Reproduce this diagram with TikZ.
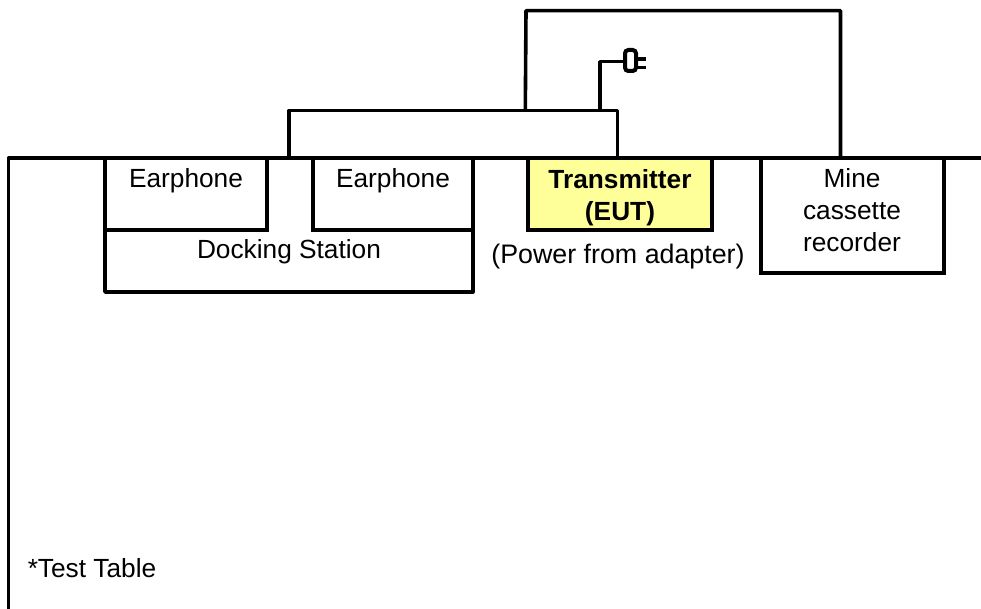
\documentclass[tikz,border=0pt]{standalone}
\usepackage{fontspec}
\setmainfont{Liberation Sans}
\tikzset{
  px/.style={x=0.75pt,y=-0.75pt},
  label/.style={inner sep=0pt,outer sep=0pt,align=center,font=\fontsize{19.7}{24}\selectfont},
  wire/.style={draw=black,line width=2.7pt,line join=round},
  boxline/.style={draw=black,line width=3pt,line join=miter},
}
\definecolor{euty}{HTML}{FFFF99}
\begin{document}
\begin{tikzpicture}[px]
\useasboundingbox (0,0) rectangle (981,609);
% test table
\coordinate (tl) at (8.5,158);
\coordinate (tb) at (8.5,609);
\coordinate (tr) at (981,158);
\draw[wire] (tb) -- (tl) -- (tr);
% connector anchors
\coordinate (a1) at (289,158);
\coordinate (a2) at (289,110.5);
\coordinate (a3) at (617.3,110.5);
\coordinate (a4) at (617.3,158);
\coordinate (b1) at (525.3,110.5);
\coordinate (b2) at (526,10.7);
\coordinate (b3) at (840.5,10.7);
\coordinate (b4) at (840.5,158);
\coordinate (c1) at (600,110.5);
\coordinate (c2) at (600,61.7);
\coordinate (c3) at (625,61.7);
\draw[wire] (a1) -- (a2) -- (a3) -- (a4);
\draw[wire] (b1) -- (b2) -- (b3) -- (b4);
\draw[wire] (c1) -- (c2) -- (c3);
% plug
\draw[boxline,rounded corners=2.5pt] (625,50) rectangle (636,71);
\coordinate (p1) at (636,59);
\coordinate (p2) at (646,59);
\coordinate (p3) at (636,67.7);
\coordinate (p4) at (646,67.7);
\draw[wire] (p1) -- (p2) (p3) -- (p4);
% docking station outline (open between the earphones)
\draw[wire] (105,230) -- (105,292) -- (472.7,292) -- (472.7,230);
\node[label] (dock) at (289,252) {Docking Station};
\draw[boxline] (105,158) rectangle (266.5,230);
\node[label] (ear1) at (186,181) {Earphone};
\draw[boxline] (312.5,158) rectangle (472.7,230);
\node[label] (ear2) at (393,181) {Earphone};
\draw[boxline,fill=euty] (528,158) rectangle (712,230);
\node[label,font=\fontsize{19.7}{24}\selectfont\bfseries] (tx) at (620,198) {Transmitter\\(EUT)};
\node[label,font=\fontsize{20.1}{24}\selectfont] (pw) at (618,257) {(Power from adapter)};
\draw[boxline] (761,158) rectangle (944,273.5);
\node[label] (rec) at (852,210.5) {Mine\\cassette\\recorder};
\node[label] (tt) at (92,568) {*Test Table};
\end{tikzpicture}
\end{document}
